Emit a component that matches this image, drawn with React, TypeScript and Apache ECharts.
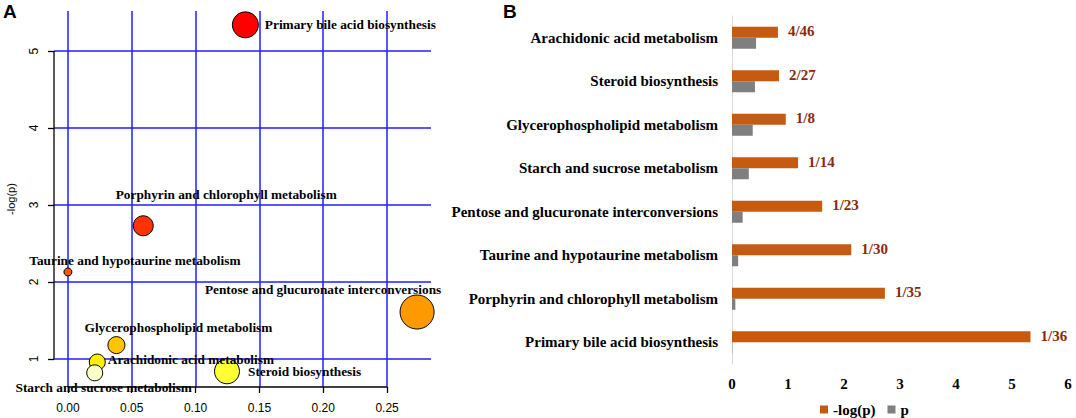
import React, { useEffect, useRef } from "react";
import * as echarts from "echarts";

// ---------- Panel A data ----------
const bubbleNames = [
  "Primary bile acid biosynthesis",
  "Porphyrin and chlorophyll metabolism",
  "Taurine and hypotaurine metabolism",
  "Pentose and glucuronate interconversions",
  "Glycerophospholipid metabolism",
  "Arachidonic acid metabolism",
  "Starch and sucrose metabolism",
  "Steroid biosynthesis",
];
const bubbleImpact = [0.139, 0.059, 0.0, 0.2735, 0.038, 0.023, 0.021, 0.1246];
const bubbleLogP = [5.34, 2.73, 2.13, 1.61, 1.18, 0.96, 0.82, 0.84];
const bubbleRadius = [13, 10, 4, 17, 8.5, 8, 8, 12.5];
const bubbleColors = ["#FF0000", "#FF3300", "#FF5500", "#FF9900", "#FFC400", "#FFF000", "#FFFFC8", "#FFFF33"];
const xTicksA = [0, 0.05, 0.1, 0.15, 0.2, 0.25];
const yTicksA = [1, 2, 3, 4, 5];

// ---------- Panel B data ----------
const pathwaysB = [
  "Arachidonic acid metabolism",
  "Steroid biosynthesis",
  "Glycerophospholipid metabolism",
  "Starch and sucrose metabolism",
  "Pentose and glucuronate interconversions",
  "Taurine and hypotaurine metabolism",
  "Porphyrin and chlorophyll metabolism",
  "Primary bile acid biosynthesis",
];
const negLogP = [0.82, 0.84, 0.96, 1.18, 1.61, 2.13, 2.73, 5.33];
const pValues = [0.43, 0.41, 0.37, 0.3, 0.19, 0.11, 0.06, 0.005];
const hitRatios = ["4/46", "2/27", "1/8", "1/14", "1/23", "1/30", "1/35", "1/36"];

// label placement for bubble texts (style only)
const bubbleLabelStyle: any[] = [
  { position: "right", distance: 6, offset: [0, 0] },
  { position: "inside", offset: [83, -31] },
  { position: "inside", offset: [67, -11] },
  { position: "inside", offset: [-94, -23] },
  { position: "inside", offset: [62, -18] },
  { position: "right", distance: 2, offset: [0, -3] },
  { position: "inside", offset: [9, 15] },
  { position: "right", distance: 8, offset: [0, 0] },
];

const SERIF = "'Liberation Serif', 'Times New Roman', serif";
const SANS = "'Liberation Sans', Arial, sans-serif";

const X_MIN_A = -0.0109;
const X_MAX_A = 0.2844;
const Y_MIN_A = 0.636;
const Y_MAX_A = 5.52;

export default function App() {
  const ref = useRef<HTMLDivElement>(null);
  useEffect(() => {
    if (!ref.current) return;
    const chart = echarts.init(ref.current, null, { renderer: "svg" });
    const baseGraphic: any[] = [
      { type: "text", left: 3, top: 2, style: { text: "A", font: `bold 19px ${SANS}`, fill: "#000" } },
      { type: "text", left: 503, top: 2, style: { text: "B", font: `bold 19px ${SANS}`, fill: "#000" } },
    ];
    const option: any = {
      animation: false,
      backgroundColor: "#ffffff",
      graphic: baseGraphic,
      legend: {
        data: ["-log(p)", "p"],
        left: 815,
        top: 397,
        itemWidth: 8,
        itemHeight: 8,
        itemGap: 12,
        icon: "rect",
        textStyle: { fontFamily: SERIF, fontWeight: "bold", fontSize: 15, color: "#000" },
      },
      grid: [
        { left: 54, top: 11, width: 377, height: 376, containLabel: false },
        { left: 732, top: 16, width: 336, height: 348, containLabel: false },
      ],
      xAxis: [
        {
          gridIndex: 0,
          type: "value",
          min: X_MIN_A,
          max: X_MAX_A,
          axisLine: { show: false, onZero: false },
          splitLine: { show: true, lineStyle: { color: "#1F1FFF", width: 1.5 } },
          axisTick: { show: true, customValues: xTicksA, length: 6, lineStyle: { color: "#000", width: 1.3 } },
          axisLabel: {
            customValues: xTicksA,
            formatter: (v: number) => v.toFixed(2),
            margin: 15,
            fontSize: 12,
            fontFamily: SANS,
            color: "#000",
          },
        },
        {
          gridIndex: 1,
          type: "value",
          min: 0,
          max: 6,
          interval: 1,
          axisLine: { show: false },
          axisTick: { show: false },
          splitLine: { show: false },
          axisLabel: { margin: 12, fontSize: 15, fontWeight: "bold", fontFamily: SERIF, color: "#000" },
        },
      ],
      yAxis: [
        {
          gridIndex: 0,
          type: "value",
          min: Y_MIN_A,
          max: Y_MAX_A,
          name: "-log(p)",
          nameLocation: "middle",
          nameGap: 38,
          nameTextStyle: { fontFamily: SANS, fontSize: 11, color: "#000" },
          axisLine: { show: false, onZero: false },
          splitLine: { show: true, lineStyle: { color: "#1F1FFF", width: 1.5 } },
          axisTick: { show: true, customValues: yTicksA, length: 6, lineStyle: { color: "#000", width: 1.3 } },
          axisLabel: {
            customValues: yTicksA,
            rotate: 90,
            margin: 14,
            fontSize: 12,
            fontFamily: SANS,
            color: "#000",
          },
        },
        {
          gridIndex: 1,
          type: "category",
          inverse: true,
          data: pathwaysB,
          axisLine: { show: true, lineStyle: { color: "#D9D9D9" } },
          axisTick: { show: false },
          axisLabel: { margin: 14, fontSize: 15, fontWeight: "bold", fontFamily: SERIF, color: "#000" },
        },
      ],
      series: [
        {
          type: "scatter",
          xAxisIndex: 0,
          yAxisIndex: 0,
          z: 3,
          data: bubbleNames.map((n, i) => ({
            name: n,
            value: [bubbleImpact[i], bubbleLogP[i]],
            symbolSize: bubbleRadius[i] * 2,
            itemStyle: { color: bubbleColors[i], borderColor: "#000", borderWidth: 1, opacity: 1 },
            label: {
              show: true,
              formatter: n,
              ...bubbleLabelStyle[i],
              fontFamily: SERIF,
              fontWeight: "bold",
              fontSize: 13.3,
              color: "#000",
            },
          })),
        },
        {
          name: "-log(p)",
          type: "bar",
          xAxisIndex: 1,
          yAxisIndex: 1,
          data: negLogP,
          barWidth: 11,
          barGap: "0%",
          itemStyle: { color: "#C55A11" },
          label: {
            show: true,
            position: "right",
            distance: 10,
            formatter: (p: any) => hitRatios[p.dataIndex],
            fontFamily: SERIF,
            fontWeight: "bold",
            fontSize: 15,
            color: "#8A2A0D",
            offset: [0, -1],
          },
        },
        {
          name: "p",
          type: "bar",
          xAxisIndex: 1,
          yAxisIndex: 1,
          data: pValues,
          barWidth: 11,
          barGap: "0%",
          itemStyle: { color: "#7F7F7F" },
        },
      ],
    };
    chart.setOption(option);

    // axis lines of panel A, spanning only the tick range (R style), placed through the axes' scales
    const px = (v: number[]) => chart.convertToPixel({ gridIndex: 0 }, v) as number[];
    const yA = px([X_MIN_A, yTicksA[0]]);
    const yB = px([X_MIN_A, yTicksA[yTicksA.length - 1]]);
    const xA = px([xTicksA[0], Y_MIN_A]);
    const xB = px([xTicksA[xTicksA.length - 1], Y_MIN_A]);
    chart.setOption({
      graphic: [
        ...baseGraphic,
        {
          type: "line",
          z: 10,
          silent: true,
          shape: { x1: yA[0], y1: yA[1], x2: yB[0], y2: yB[1] },
          style: { stroke: "#000", lineWidth: 1.3 },
        },
        {
          type: "line",
          z: 10,
          silent: true,
          shape: { x1: xA[0], y1: xA[1], x2: xB[0], y2: xB[1] },
          style: { stroke: "#000", lineWidth: 1.3 },
        },
      ],
    });
    return () => chart.dispose();
  }, []);
  return (
    <div
      ref={ref}
      style={{ position: "absolute", left: 0, top: 0, width: 1076, height: 418, background: "#fff" }}
    />
  );
}
